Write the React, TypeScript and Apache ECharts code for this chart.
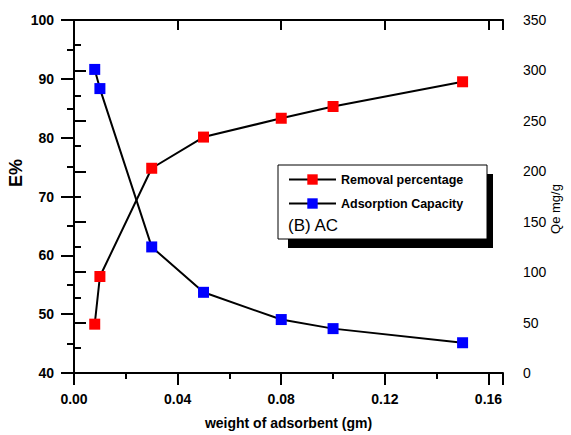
import React, { useEffect, useRef } from "react";
import * as echarts from "echarts";

const weights = [0.008, 0.01, 0.03, 0.05, 0.08, 0.1, 0.15];
const removalPercentage = [48.3, 56.4, 74.8, 80.1, 83.3, 85.3, 89.5];
const adsorptionCapacity = [301, 282, 125, 80, 53, 44, 30];

const FONT = "'Liberation Sans', Arial, sans-serif";

export default function App() {
  const ref = useRef<HTMLDivElement>(null);
  useEffect(() => {
    if (!ref.current) return;
    const chart = echarts.init(ref.current, undefined, { renderer: "svg" });
    const axisLineStyle = { color: "#000", width: 2 };
    chart.setOption({
      animation: false,
      backgroundColor: "#fff",
      grid: { left: 74, right: 68, top: 20, bottom: 56 },
      legend: {
        show: true,
        orient: "vertical",
        left: 288,
        top: 173,
        padding: 0,
        itemWidth: 47,
        itemHeight: 13,
        itemGap: 11,
        textStyle: { fontFamily: FONT, fontWeight: "bold", fontSize: 12.5, color: "#000" },
        data: ["Removal percentage", "Adsorption Capacity"],
        z: 10,
      },
      xAxis: [
        {
          type: "value",
          min: 0,
          max: 0.1656,
          interval: 0.04,
          position: "bottom",
          name: "weight of adsorbent (gm)",
          nameLocation: "middle",
          nameGap: 43,
          nameTextStyle: { fontFamily: FONT, fontWeight: "bold", fontSize: 14, color: "#000" },
          axisLine: { lineStyle: axisLineStyle },
          axisTick: { length: 12, lineStyle: axisLineStyle },
          minorTick: { show: true, splitNumber: 2, length: 6, lineStyle: axisLineStyle },
          splitLine: { show: false },
          axisLabel: {
            margin: 19,
            showMaxLabel: false,
            fontFamily: FONT,
            fontWeight: "bold",
            fontSize: 14,
            color: "#000",
            formatter: (v: number) => v.toFixed(2),
          },
        },
        {
          type: "value",
          min: 0,
          max: 0.1656,
          interval: 0.04,
          position: "top",
          axisLine: { lineStyle: axisLineStyle },
          axisTick: { inside: true, length: 10, lineStyle: axisLineStyle },
          splitLine: { show: false },
          axisLabel: { show: false },
        },
      ],
      yAxis: [
        {
          type: "value",
          min: 40,
          max: 100,
          interval: 10,
          position: "left",
          axisLine: { show: true, lineStyle: axisLineStyle },
          axisTick: { show: true, length: 13, lineStyle: axisLineStyle },
          minorTick: { show: true, splitNumber: 2, length: 7, lineStyle: axisLineStyle },
          splitLine: { show: false },
          axisLabel: { margin: 20, fontFamily: FONT, fontWeight: "bold", fontSize: 14, color: "#000" },
        },
        {
          type: "value",
          min: 0,
          max: 350,
          interval: 50,
          position: "right",
          axisLine: { show: true, lineStyle: axisLineStyle },
          axisTick: { show: true, length: 12, lineStyle: axisLineStyle },
          minorTick: { show: true, splitNumber: 2, length: 7, lineStyle: axisLineStyle },
          splitLine: { show: false },
          axisLabel: { margin: 20, fontFamily: FONT, fontSize: 14, color: "#000" },
        },
      ],
      series: [
        {
          name: "Removal percentage",
          type: "line",
          xAxisIndex: 0,
          yAxisIndex: 0,
          data: weights.map((w, i) => [w, removalPercentage[i]]),
          symbol: "rect",
          symbolSize: 11,
          itemStyle: { color: "#ff0000" },
          lineStyle: { color: "#000", width: 2 },
          z: 5,
        },
        {
          name: "Adsorption Capacity",
          type: "line",
          xAxisIndex: 0,
          yAxisIndex: 1,
          data: weights.map((w, i) => [w, adsorptionCapacity[i]]),
          symbol: "rect",
          symbolSize: 11,
          itemStyle: { color: "#0000ff" },
          lineStyle: { color: "#000", width: 2 },
          z: 5,
        },
      ],
      graphic: [
        {
          type: "rect",
          z: 1,
          shape: { x: 288, y: 174, width: 205, height: 74 },
          style: { fill: "#000" },
        },
        {
          type: "rect",
          z: 2,
          shape: { x: 278, y: 165, width: 209, height: 74 },
          style: { fill: "#fff", stroke: "#000", lineWidth: 1 },
        },
        {
          type: "text",
          z: 3,
          x: 288,
          y: 225,
          style: {
            text: "(B) AC",
            fontFamily: FONT,
            fontSize: 17,
            fill: "#000",
            textAlign: "left",
            textVerticalAlign: "middle",
          },
        },
        {
          type: "text",
          x: 16,
          y: 173,
          rotation: Math.PI / 2,
          style: {
            text: "E%",
            fontFamily: FONT,
            fontWeight: "bold",
            fontSize: 18,
            fill: "#000",
            textAlign: "center",
            textVerticalAlign: "middle",
          },
        },
        {
          type: "text",
          x: 555,
          y: 209,
          rotation: Math.PI / 2,
          style: {
            text: "Qe mg/g",
            fontFamily: FONT,
            fontSize: 13,
            fill: "#000",
            textAlign: "center",
            textVerticalAlign: "middle",
          },
        },
      ],
    });
    return () => chart.dispose();
  }, []);
  return (
    <div
      ref={ref}
      style={{ position: "fixed", left: 0, top: 0, width: 571, height: 435 }}
    />
  );
}
